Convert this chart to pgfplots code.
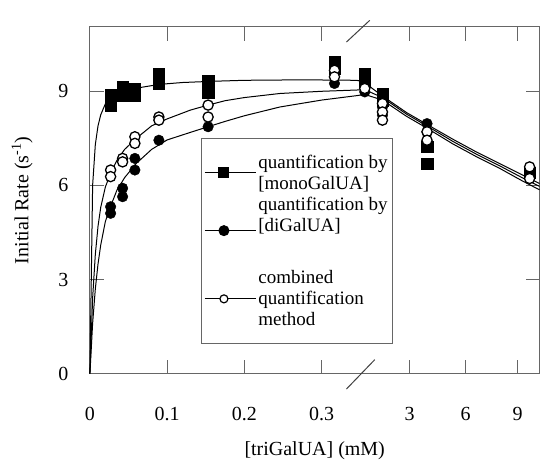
\documentclass[border=0pt]{standalone}
\usepackage{fontspec}
\setmainfont{Liberation Serif}
\usepackage{pgfplots}
\pgfplotsset{compat=1.18}

% x positions: 0-0.35 mM linear, then broken axis (3, 6, 9 mM)
\begin{document}
\begin{tikzpicture}
\begin{axis}[
    name=ax,
    scale only axis,
    width=450pt, height=347pt,
    xmin=0, xmax=0.582,
    ymin=0, ymax=11.05,
    xtick={0,0.1,0.2,0.3,0.414,0.4864,0.5537},
    xticklabels={0,0.1,0.2,0.3,3,6,9},
    ytick={0,3,6,9},
    major tick length=14pt,
    tick align=inside,
    axis line style={draw=black!60, line width=1pt},
    tick style={draw=black!60, line width=1pt},
    /pgf/number format/assume math mode=true,
    tick label style={font=\fontsize{20}{24}\selectfont},
    xticklabel style={yshift=-30pt},
    yticklabel style={xshift=-18pt},
    every axis x label/.style={at={(axis description cs:0.5,-0.222)}, anchor=center},
    every axis y label/.style={at={(axis description cs:-0.151,0.5)}, rotate=90, anchor=center},
    label style={font=\fontsize{20}{24}\selectfont},
    xlabel={[triGalUA] (mM)},
    ylabel={Initial Rate (s\textsuperscript{-1})},
    clip=false,
    legend image code/.code={\path (0pt,0pt) -- (51pt,0pt);
        \draw[mark repeat=2,mark phase=2] plot coordinates {(0pt,0pt)(19pt,0pt)(38pt,0pt)};},
    legend style={at={(axis description cs:0.247,0.0865)}, anchor=south west,
        draw=black!60, line width=1pt, font=\fontsize{19}{21}\selectfont,
        inner xsep=3pt, inner ysep=14pt, row sep=2pt,
        cells={anchor=west, align=left}},
]
\addlegendimage{black, line width=1pt, mark=square*, mark size=5pt, mark options={solid}}
\addlegendentry{quantification by\\{[monoGalUA]}}
\addlegendimage{black, line width=1pt, mark=*, mark size=5pt}
\addlegendentry{quantification by\\{[diGalUA]}\\[11pt]\mbox{}}
\addlegendimage{black, line width=1pt, mark=*, mark size=4pt, mark options={fill=white, line width=1.2pt}}
\addlegendentry{combined\\quantification\\method}

% fitted curves
\addplot[black, line width=1pt, forget plot] coordinates {
 (0,0) (0.0035,6.0) (0.007,7.3) (0.0105,7.9) (0.014,8.25) (0.02,8.6) (0.03,8.85)
 (0.04,8.98) (0.055,9.08) (0.07,9.14) (0.09,9.22) (0.12,9.28) (0.16,9.32) (0.2,9.35)
 (0.25,9.36) (0.3,9.36) (0.345,9.35) (0.3558,9.3) (0.365,9.1) (0.3787,8.85) (0.41,8.32)
 (0.436,7.95) (0.47,7.47) (0.50,7.07) (0.53,6.7) (0.56,6.33) (0.582,6.06)};
\addplot[black, line width=1pt, forget plot] coordinates {
 (0,0) (0.0035,2.4) (0.007,3.8) (0.0105,4.7) (0.014,5.3) (0.02,5.95) (0.027,6.4)
 (0.035,6.8) (0.045,7.15) (0.06,7.5) (0.08,7.9) (0.1,8.12) (0.13,8.4) (0.153,8.56)
 (0.175,8.7) (0.2,8.8) (0.246,8.93) (0.3,9.0) (0.345,9.04) (0.3558,9.05) (0.3787,8.8)
 (0.41,8.27) (0.436,7.9) (0.47,7.4) (0.50,7.0) (0.53,6.63) (0.56,6.24) (0.582,5.97)};
\addplot[black, line width=1pt, forget plot] coordinates {
 (0,0) (0.0035,1.6) (0.007,2.7) (0.0105,3.5) (0.014,4.1) (0.02,4.85) (0.027,5.35)
 (0.035,5.85) (0.045,6.25) (0.06,6.7) (0.08,7.15) (0.1,7.45) (0.13,7.69) (0.153,7.87)
 (0.175,8.04) (0.2,8.22) (0.246,8.5) (0.3,8.72) (0.345,8.86) (0.3558,8.9) (0.3787,8.72)
 (0.41,8.2) (0.436,7.83) (0.47,7.32) (0.50,6.92) (0.53,6.55) (0.56,6.14) (0.582,5.86)};

% monoGalUA
\addplot[only marks, mark=square*, mark size=5.75pt, black, forget plot] coordinates {
 (0.0268,8.87) (0.0268,8.56) (0.0423,9.14) (0.0423,8.87) (0.0582,9.09) (0.0582,8.87)
 (0.0893,9.56) (0.0893,9.25) (0.153,9.32) (0.153,8.96) (0.3166,9.94) (0.3166,9.72)
 (0.3558,9.56) (0.3558,9.30) (0.3787,8.93) (0.3787,8.72) (0.4364,7.23) (0.4364,6.70)
 (0.5692,6.40)};
% diGalUA
\addplot[only marks, mark=*, mark size=5.3pt, black, forget plot] coordinates {
 (0.0268,5.32) (0.0268,5.11) (0.0423,5.91) (0.0423,5.64) (0.0582,6.86) (0.0582,6.49)
 (0.0893,7.44) (0.153,7.87) (0.3166,9.25) (0.3558,8.98) (0.3787,8.50) (0.3787,8.24)
 (0.4364,7.97) (0.4364,7.70) (0.5692,6.45) (0.5692,6.35)};
% combined
\addplot[only marks, mark=*, mark size=5.1pt, black, mark options={fill=white, line width=1.3pt}, forget plot] coordinates {
 (0.0268,6.49) (0.0268,6.28) (0.0423,6.86) (0.0423,6.75) (0.0582,7.55) (0.0582,7.34)
 (0.0893,8.18) (0.0893,8.08) (0.153,8.56) (0.153,8.18) (0.3166,9.67) (0.3166,9.46)
 (0.3558,9.09) (0.3787,8.61) (0.3787,8.34) (0.3787,8.08) (0.4364,7.71) (0.4364,7.44)
 (0.5692,6.59) (0.5692,6.22)};

% axis break marks
\draw[black!75, line width=1pt] (axis cs:0.3321,10.57) -- (axis cs:0.3622,11.26);
\draw[black!75, line width=1pt] (axis cs:0.3321,-0.49) -- (axis cs:0.3687,0.445);
\end{axis}
\path[use as bounding box] ([xshift=-90pt,yshift=-83pt]ax.south west) rectangle ([xshift=0.5pt,yshift=27pt]ax.north east);
\end{tikzpicture}
\end{document}
